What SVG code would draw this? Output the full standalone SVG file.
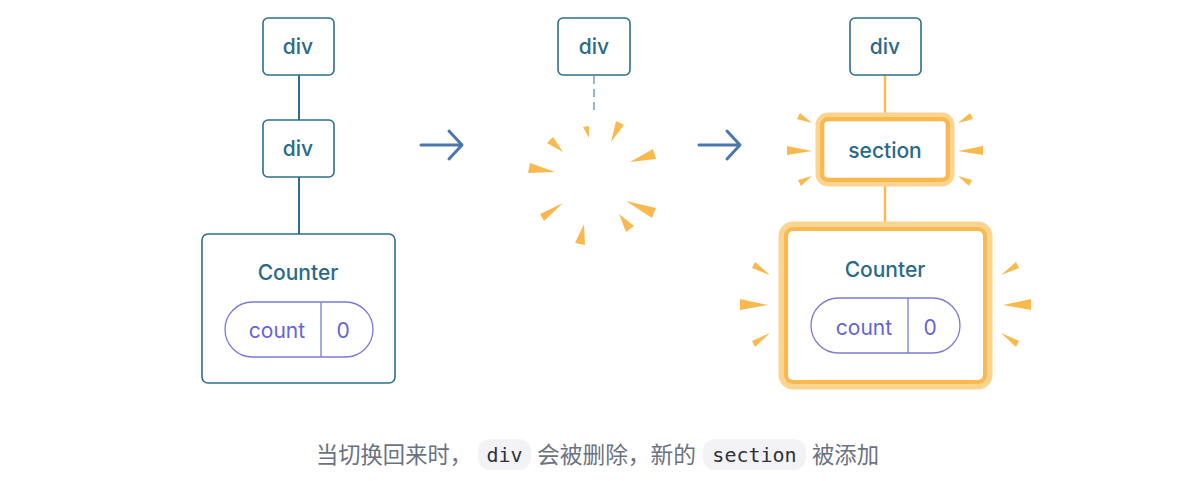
<svg xmlns="http://www.w3.org/2000/svg" width="1188" height="481" viewBox="0 0 1188 481">
<style>
.node{fill:#fff;stroke:#2f6f8c;stroke-width:1.6}
.lbl{font-family:Inter,"Noto Sans",sans-serif;font-size:21px;font-weight:500;fill:#2a6a87;text-anchor:middle}
.pill{fill:#fff;stroke:#7b7bd6;stroke-width:1.3}
.pt{font-family:Inter,"Noto Sans",sans-serif;font-size:21px;fill:#6464d8;text-anchor:middle}
.edge{stroke:#2f6f8c;stroke-width:2;fill:none}
.oedge{stroke:#f9b94f;stroke-width:2.5;fill:none}
.spark{fill:#f9b94f}
.glow{fill:#fff;stroke:#fbd48f;stroke-width:9}
.hot{fill:none;stroke:#f9b94f;stroke-width:4}
.cap{font-family:"Noto Sans CJK SC",sans-serif;font-size:22.5px;fill:#6b7280}
.code{font-family:"DejaVu Sans Mono",monospace;font-size:20px;fill:#2f3237;text-anchor:middle}
.cbg{fill:#f3f3f6}
.arr{stroke:#4a78ad;stroke-width:3;fill:none;stroke-linecap:round;stroke-linejoin:round}
</style>
<g id="connectors">
<line class="edge" x1="299" y1="75" x2="299" y2="120"/>
<line class="edge" x1="299" y1="177" x2="299" y2="234"/>
<line x1="594" y1="76" x2="594" y2="110" stroke="#8fb8d4" stroke-width="2" stroke-dasharray="8,5"/>
<line class="oedge" x1="885" y1="75" x2="885" y2="118"/>
<line class="oedge" x1="885" y1="182" x2="885" y2="226"/>
<path class="arr" d="M421 145 H461 M449 131 L462 145 L449 159"/>
<path class="arr" d="M699 145 H739 M727 131 L740 145 L727 159"/>
</g>
<g id="l-div1"><rect class="node" x="263" y="18" width="71" height="57" rx="5"/><text class="lbl" x="298" y="54">div</text></g>
<g id="l-div2"><rect class="node" x="263" y="120" width="71" height="57" rx="5"/><text class="lbl" x="298" y="156">div</text></g>
<g id="l-counter"><rect class="node" x="202" y="234" width="193" height="149" rx="6"/><text class="lbl" x="298" y="280">Counter</text>
<rect class="pill" x="225" y="302" width="148" height="55" rx="27.5"/><line x1="321" y1="302" x2="321" y2="357" stroke="#7b7bd6" stroke-width="1.3"/>
<text class="pt" x="277" y="338">count</text><text class="pt" x="343" y="338">0</text></g>
<g id="m-div"><rect class="node" x="558" y="18" width="72" height="57" rx="5"/><text class="lbl" x="594" y="54">div</text></g>
<g id="m-sparks" class="spark">
<polygon points="589,138 583,127 589,126"/>
<polygon points="611,142 624,125 616,121"/>
<polygon points="563,152 553,137 547,143"/>
<polygon points="555,172 530,163 528,173"/>
<polygon points="630,162 653,149 656,159"/>
<polygon points="563,203 544,221 540,214"/>
<polygon points="626,201 652,218 656,208"/>
<polygon points="619,214 634,226 626,232"/>
<polygon points="584,224 585,245 575,243"/>
</g>
<g id="r-div"><rect class="node" x="850" y="18" width="71" height="57" rx="5"/><text class="lbl" x="885" y="54">div</text></g>
<g id="r-section"><rect class="glow" x="820" y="117" width="130" height="65" rx="8"/><rect class="hot" x="822" y="119" width="126" height="61" rx="6"/><text class="lbl" x="885" y="158">section</text></g>
<g id="r-counter"><rect class="glow" x="783" y="226" width="205" height="159" rx="10"/><rect class="hot" x="786" y="229" width="199" height="153" rx="7"/><text class="lbl" x="885" y="277">Counter</text>
<rect class="pill" x="811" y="298" width="149" height="55" rx="27.5"/><line x1="908" y1="298" x2="908" y2="353" stroke="#7b7bd6" stroke-width="1.3"/>
<text class="pt" x="864" y="335">count</text><text class="pt" x="930" y="335">0</text></g>
<g id="r-sparks" class="spark">
<polygon points="812,123 800,113 797,119"/>
<polygon points="812,151 787,146 787,155"/>
<polygon points="812,176 798,180 801,186"/>
<polygon points="958,123 970,113 973,119"/>
<polygon points="958,151 983,146 983,155"/>
<polygon points="958,176 972,180 969,186"/>
<polygon points="770,275 755,262 752,268"/>
<polygon points="768,305 740,299 740,310"/>
<polygon points="770,333 752,341 755,347"/>
<polygon points="1001,275 1016,262 1019,268"/>
<polygon points="1003,305 1031,299 1031,310"/>
<polygon points="1001,333 1019,341 1016,347"/>
</g>
<g id="caption">
<rect class="cbg" x="478" y="439" width="53" height="31" rx="12"/>
<rect class="cbg" x="703" y="439" width="103" height="31" rx="12"/>
<text class="cap" x="316" y="463" textLength="156" lengthAdjust="spacingAndGlyphs">当切换回来时，</text>
<text class="code" x="504.5" y="462">div</text>
<text class="cap" x="537" y="463" textLength="159" lengthAdjust="spacingAndGlyphs">会被删除，新的</text>
<text class="code" x="754.5" y="462">section</text>
<text class="cap" x="812" y="463" textLength="67" lengthAdjust="spacingAndGlyphs">被添加</text>
</g>
</svg>
